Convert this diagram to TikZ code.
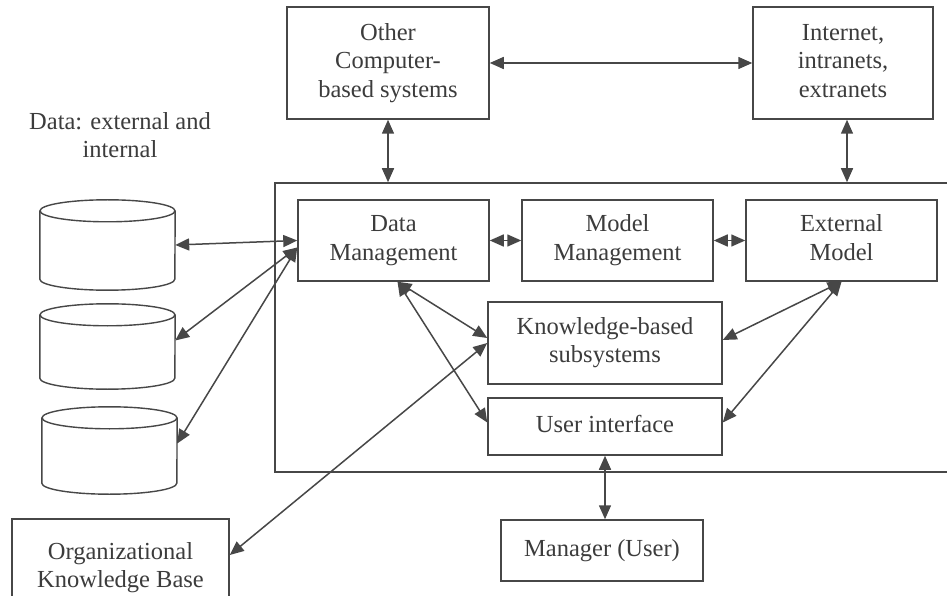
\documentclass[tikz,border=0pt]{standalone}
\usepackage{fontspec}
\setmainfont{Liberation Serif}
\usetikzlibrary{arrows.meta,calc}
\definecolor{lc}{HTML}{474747}
\definecolor{tc}{HTML}{3C3C3C}
\newcommand{\myln}[1]{#1\strut}
\begin{document}
\begin{tikzpicture}[x=1pt,y=1pt,
  box/.style={draw=lc, line width=1.5pt, align=center, inner sep=0pt, text=tc,
    font=\fontsize{24.5}{28.5}\selectfont},
  conn/.style={lc, line width=1.5pt, {Triangle[length=14pt,width=12pt]}-{Triangle[length=14pt,width=12pt]}},
  cylbox/.style={inner sep=0pt, minimum width=135pt},
  cyl/.style={draw=lc, line width=1.4pt}
]
\useasboundingbox (0,0) rectangle (947,595);
\fill[white] (0,0) rectangle (947,595);

% outer system box (right side runs past the picture edge)
\node[box, minimum width=685pt, minimum height=289pt] (dss) at (617.5,267.5) {};

\node[box, minimum width=202pt, minimum height=112pt] (other) at (388,532) {\myln{Other}\\\myln{Computer-}\\\myln{based systems}};
\node[box, minimum width=180pt, minimum height=112pt] (inet) at (843,532) {\myln{Internet,}\\\myln{intranets,}\\\myln{extranets}};

\node[box, minimum width=191pt, minimum height=81pt] (dm) at (393.5,354.5) {\myln{Data}\\\myln{Management}};
\node[box, minimum width=191pt, minimum height=81pt] (mm) at (617.5,354.5) {\myln{Model}\\\myln{Management}};
\node[box, minimum width=191pt, minimum height=81pt] (em) at (841.5,354.5) {\myln{External}\\\myln{Model}};
\node[box, minimum width=234pt, minimum height=82pt] (kb) at (605,252) {\myln{Knowledge-based}\\\myln{subsystems}};
\node[box, minimum width=234pt, minimum height=57pt] (ui) at (605,168.5) {\myln{User interface}};
\node[box, minimum width=202pt, minimum height=61pt] (mgr) at (602,44.5) {\myln{Manager (User)}};
\node[box, minimum width=217pt, minimum height=98pt] (okb) at (120.5,27) {\myln{Organizational}\\\myln{Knowledge Base}};

\node[text=tc, align=center, inner sep=0pt, font=\fontsize{24.5}{28.5}\selectfont] (datalbl) at (120,457) {\myln{Data: external and}\\\myln{internal}};

% cylinders
\node[cylbox, minimum height=90pt] (c1) at (107.5,350) {};
\node[cylbox, minimum height=85pt] (c2) at (107.5,248.5) {};
\node[cylbox, minimum height=87pt] (c3) at (109.5,144.5) {};
\foreach \c in {c1,c2,c3}{
  \draw[cyl] ($(\c.north west)+(0,-11)$) -- ($(\c.south west)+(0,11)$)
     arc[start angle=180,end angle=360,x radius=67.5,y radius=11]
     -- ($(\c.north east)+(0,-11)$);
  \draw[cyl] ($(\c.north)+(0,-11)$) ellipse[x radius=67.5,y radius=11];
}

% connectors
\draw[conn] (other.east) -- (inet.west);
\draw[conn] (other.south) -- (other.south |- dss.north);
\draw[conn] ([xshift=4pt]inet.south) -- ([xshift=4pt]inet.south |- dss.north);
\draw[conn] (c1.east) -- (dm.west);
\draw[conn] ([yshift=6pt]c2.east) -- ([yshift=-7pt]dm.west);
\draw[conn] ([yshift=7pt]c3.east) -- ([yshift=-7pt]dm.west);
\draw[conn] ([yshift=13pt]okb.east) -- (kb.west);
\draw[conn] ([xshift=4pt]dm.south) -- ([yshift=5pt]kb.west);
\draw[conn] ([xshift=4pt]dm.south) -- ([yshift=4pt]ui.west);
\draw[conn] (em.south) -- ([yshift=3pt]kb.east);
\draw[conn] (em.south) -- ([yshift=4pt]ui.east);
\draw[conn] (dm.east) -- (mm.west);
\draw[conn] (mm.east) -- (em.west);
\draw[conn] (ui.south) -- (ui.south |- mgr.north);
\end{tikzpicture}
\end{document}
